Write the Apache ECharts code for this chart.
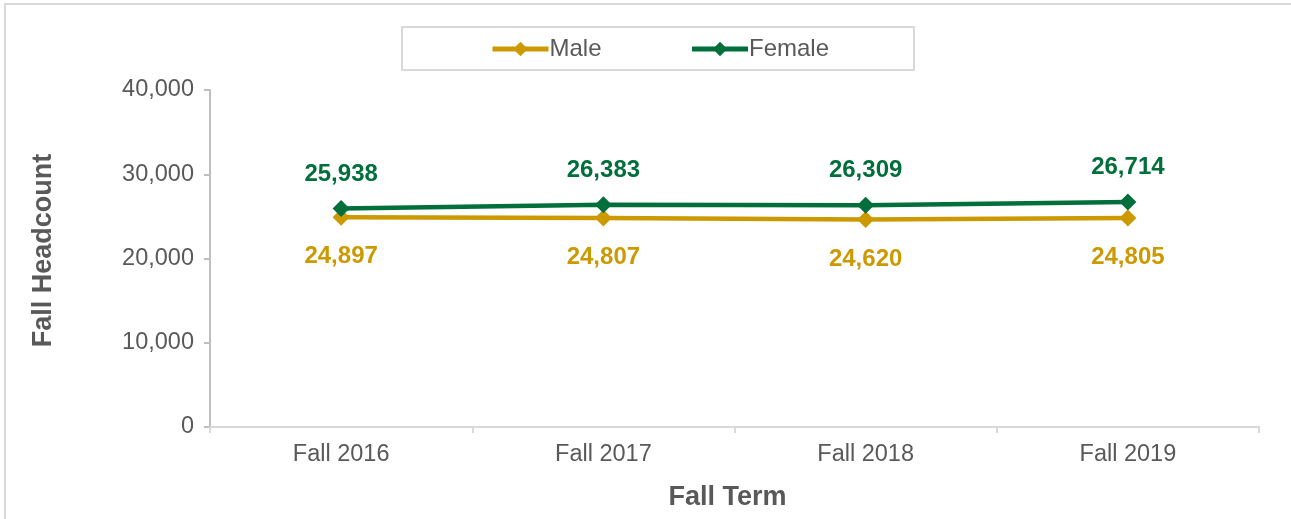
<!DOCTYPE html>
<html>
<head>
<meta charset="utf-8">
<script src="https://cdn.jsdelivr.net/npm/echarts@6/dist/echarts.min.js"></script>
<style>
  html, body { margin: 0; padding: 0; background: #fff; }
  #main { width: 1291px; height: 519px; }
</style>
</head>
<body>
<div id="main"></div>
<script>
  // data
  var terms = ['Fall 2016', 'Fall 2017', 'Fall 2018', 'Fall 2019']
  var male = [24897, 24807, 24620, 24805]
  var female = [25938, 26383, 26309, 26714]

  var font = '"Liberation Sans", Arial, sans-serif'
  var grey = '#595959'

  var chart = echarts.init(document.getElementById('main'))
  var fmt = function (v) { return v.toLocaleString('en-US') }

  var option = {
    animation: false,
    textStyle: { fontFamily: font },
    graphic: [{
      type: 'rect',
      shape: { x: 5, y: 4, width: 1400, height: 600 },
      style: { fill: 'none', stroke: '#d9d9d9', lineWidth: 2 },
      silent: true
    }],
    legend: {
      left: 402,
      top: 27,
      padding: [10, 85, 9, 88],
      borderColor: '#d9d9d9',
      borderWidth: 2,
      itemWidth: 56,
      itemHeight: 18,
      itemGap: 88,
      lineStyle: { width: 5 },
      textStyle: { color: grey, fontSize: 24, fontFamily: font, padding: [0, 0, 0, -4] },
      data: ['Male', 'Female']
    },
    grid: {
      left: 210,
      right: 32,
      top: 90,
      bottom: 92,
      outerBoundsMode: 'none',
      containLabel: false
    },
    xAxis: {
      type: 'category',
      data: terms,
      boundaryGap: true,
      name: 'Fall Term',
      nameLocation: 'middle',
      nameGap: 57,
      nameTextStyle: { color: grey, fontSize: 27, fontWeight: 'bold', fontFamily: font, padding: [0, 14, 0, 0] },
      axisLine: { lineStyle: { color: '#d9d9d9', width: 2 } },
      axisTick: { show: true, length: 6, lineStyle: { color: '#d9d9d9', width: 2 } },
      axisLabel: { color: grey, fontSize: 23.5, margin: 16, fontFamily: font }
    },
    yAxis: {
      type: 'value',
      min: 0,
      max: 40000,
      interval: 10000,
      name: 'Fall Headcount',
      nameLocation: 'middle',
      nameRotate: 90,
      nameGap: 153,
      nameTextStyle: { color: grey, fontSize: 27, fontWeight: 'bold', fontFamily: font, padding: [0, 0, 0, 16] },
      axisLine: { show: true, lineStyle: { color: '#bfbfbf', width: 2 } },
      axisTick: { show: true, length: 6, lineStyle: { color: '#bfbfbf', width: 2 } },
      splitLine: { show: false },
      axisLabel: { color: grey, fontSize: 23.5, margin: 16, fontFamily: font, formatter: fmt }
    },
    series: [{
      name: 'Male',
      type: 'line',
      data: male,
      color: '#cc9900',
      symbol: 'diamond',
      symbolSize: 17,
      lineStyle: { width: 4.5, color: '#cc9900' },
      itemStyle: { color: '#cc9900' },
      label: {
        show: true,
        position: 'bottom',
        distance: 19,
        color: '#cc9900',
        fontSize: 24,
        fontWeight: 'bold',
        fontFamily: font,
        formatter: function (p) { return fmt(p.value) }
      }
    }, {
      name: 'Female',
      type: 'line',
      data: female,
      color: '#006f3b',
      symbol: 'diamond',
      symbolSize: 17,
      lineStyle: { width: 4.5, color: '#006f3b' },
      itemStyle: { color: '#006f3b' },
      label: {
        show: true,
        position: 'top',
        distance: 14,
        color: '#006f3b',
        fontSize: 24,
        fontWeight: 'bold',
        fontFamily: font,
        formatter: function (p) { return fmt(p.value) }
      }
    }]
  }

  chart.setOption(option)
  window.addEventListener('resize', () => {
    chart.resize()
  })
</script>
</body>
</html>
